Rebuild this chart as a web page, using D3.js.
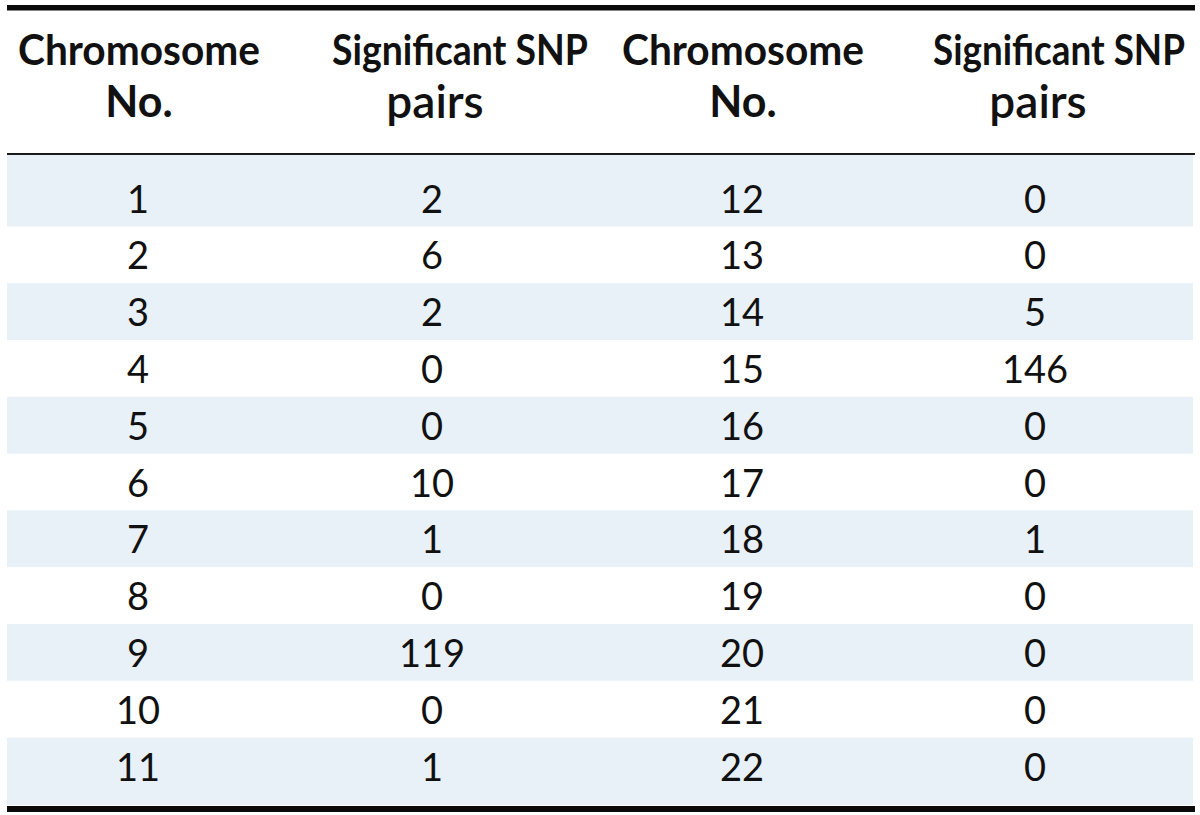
<!DOCTYPE html>
<html>
<head>
<meta charset="utf-8">
<script src="https://cdn.jsdelivr.net/npm/d3@7"></script>
<style>
  html, body { margin: 0; padding: 0; background: #ffffff; }
  svg { display: block; }
</style>
</head>
<body>
<svg id="chart" width="1200" height="815"></svg>
<script>
// ---- data ----
const chromosomesLeft = [1, 2, 3, 4, 5, 6, 7, 8, 9, 10, 11];
const pairsLeft = [2, 6, 2, 0, 0, 10, 1, 0, 119, 0, 1];
const chromosomesRight = [12, 13, 14, 15, 16, 17, 18, 19, 20, 21, 22];
const pairsRight = [0, 0, 5, 146, 0, 0, 1, 0, 0, 0, 0];
const headerLine1 = ["Chromosome", "Significant SNP", "Chromosome", "Significant SNP"];
const headerLine2 = ["No.", "pairs", "No.", "pairs"];
const columnKeys = ["chromL", "pairsL", "chromR", "pairsR"];

// ---- layout ----
const svg = d3.select("#chart");
const tableLeft = 7, tableRight = 1195;
const headerBottom = 155, tableBottom = 805;

const rows = chromosomesLeft.map((c, i) => ({
  idx: i,
  chromL: chromosomesLeft[i], pairsL: pairsLeft[i],
  chromR: chromosomesRight[i], pairsR: pairsRight[i]
}));

const x = d3.scaleOrdinal().domain(columnKeys).range([138, 432, 742, 1035]);
const yCenter = d3.scaleLinear().domain([0, rows.length - 1]).range([199, 767]);
const step = yCenter(1) - yCenter(0);

const rowTop = i => i === 0 ? headerBottom : yCenter(i) - step / 2 - 1;
const rowBottom = i => i === rows.length - 1 ? tableBottom : yCenter(i) + step / 2 - 1;

// stripes
svg.append("g").selectAll("rect")
  .data(rows.filter(r => r.idx % 2 === 0))
  .join("rect")
  .attr("x", tableLeft)
  .attr("width", tableRight - tableLeft - 2)
  .attr("y", r => rowTop(r.idx))
  .attr("height", r => rowBottom(r.idx) - rowTop(r.idx))
  .attr("fill", "#e8f0f8");

// rules
svg.append("rect").attr("x", tableLeft).attr("y", 5).attr("width", tableRight - tableLeft).attr("height", 5.5).attr("fill", "#0a0a0a");
svg.append("rect").attr("x", tableLeft).attr("y", headerBottom - 2).attr("width", tableRight - tableLeft).attr("height", 2).attr("fill", "#1a1a1a");
svg.append("rect").attr("x", tableLeft).attr("y", tableBottom + 1).attr("width", tableRight - tableLeft).attr("height", 6).attr("fill", "#0a0a0a");

// header
const hdr = svg.append("g").attr("fill", "#111").attr("text-anchor", "middle");
const pairsHeaderShift = { pairsL: 28, pairsR: 24 };
const pairsHeaderLen = { pairsL: 256, pairsR: 252 };
columnKeys.forEach((k, i) => {
  const isChrom = i % 2 === 0;
  const cx = isChrom ? x(k) + 1 : x(k) + pairsHeaderShift[k];
  const target = isChrom ? 242 : pairsHeaderLen[k];
  const g = hdr.append("g");
  const t = g.append("text")
    .attr("x", 0)
    .attr("y", 0)
    .attr("font-family", "Lato, 'Open Sans', sans-serif")
    .attr("font-weight", 700)
    .attr("font-size", 42)
    .text(headerLine1[i]);
  const natural = t.node().getComputedTextLength();
  const sx = natural > 0 ? target / natural : 1;
  g.attr("transform", `translate(${cx},65) scale(${sx},1)`);

  hdr.append("text")
    .attr("x", x(k) + (isChrom ? 1 : 3))
    .attr("y", isChrom ? 117 : 118)
    .attr("font-family", "Lato, 'Open Sans', sans-serif")
    .attr("font-weight", isChrom ? 700 : 600)
    .attr("font-size", isChrom ? 43 : 46)
    .text(headerLine2[i]);
});

// body cells
const body = svg.append("g")
  .attr("fill", "#111")
  .attr("text-anchor", "middle")
  .attr("font-family", "Lato, 'Open Sans', sans-serif")
  .attr("font-size", 38);

columnKeys.forEach(k => {
  body.append("g").selectAll("text")
    .data(rows)
    .join("text")
    .attr("x", x(k))
    .attr("y", r => yCenter(r.idx))
    .attr("dy", "0.36em")
    .text(r => r[k]);
});
</script>
</body>
</html>
